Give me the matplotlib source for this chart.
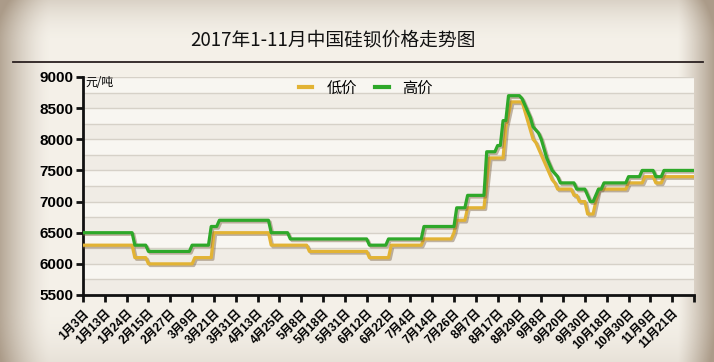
import numpy as np
import matplotlib
matplotlib.use("Agg")
import matplotlib.pyplot as plt
import matplotlib.patheffects as pe
from matplotlib.lines import Line2D

plt.rcParams['font.family'] = ['Liberation Sans', 'Noto Sans CJK SC', 'DejaVu Sans']

# 日期标签（每8个交易日一个）
tick_labels = ['1月3日', '1月13日', '1月24日', '2月15日', '2月27日', '3月9日', '3月21日',
               '3月31日', '4月13日', '4月25日', '5月8日', '5月18日', '5月31日', '6月12日',
               '6月22日', '7月4日', '7月14日', '7月26日', '8月7日', '8月17日', '8月29日',
               '9月8日', '9月20日', '9月30日', '10月18日', '10月30日', '11月9日', '11月21日']

# 低价: 价格 / 持续天数
low_vals = [6300, 6100, 6000, 6100, 6500, 6300, 6200, 6100, 6300, 6400, 6500, 6700, 6900,
            7300, 7700, 8200, 8400, 8600,
            8450, 8300, 8150, 8000, 7950, 7850, 7750, 7650, 7550, 7450, 7350, 7300,
            7200, 7100, 7000, 6800, 7000, 7200, 7300, 7400, 7300, 7400]
low_days = [19, 5, 17, 7, 21, 14, 22, 8, 12, 11, 1, 4, 7,
            1, 6, 1, 1, 5,
            1, 1, 1, 1, 1, 1, 1, 1, 1, 1, 1, 1,
            6, 2, 3, 3, 1, 11, 6, 4, 3, 12]

# 高价: 价格 / 持续天数
high_vals = [6500, 6300, 6200, 6300, 6600, 6700, 6500, 6400, 6300, 6400, 6600, 6900, 7100,
             7800, 7900, 8300, 8700,
             8650, 8550, 8450, 8350, 8200, 8150, 8100, 8000, 7850, 7700, 7600, 7500, 7450, 7400,
             7300, 7200, 7100, 7000, 7100, 7200, 7300, 7400, 7500, 7400, 7500]
high_days = [19, 5, 16, 7, 3, 19, 7, 29, 7, 13, 12, 4, 7,
             4, 2, 2, 5,
             1, 1, 1, 1, 1, 1, 1, 1, 1, 1, 1, 1, 1, 1,
             6, 4, 1, 2, 1, 2, 9, 5, 5, 3, 12]

low = np.repeat(low_vals, low_days)
high = np.repeat(high_vals, high_days)
x = np.arange(len(low))

fig = plt.figure(figsize=(7.14, 3.62), dpi=100)
fig.patch.set_facecolor('#f4f0e8')

# 背景暗角
bg = fig.add_axes([0, 0, 1, 1], zorder=-10)
gx = np.linspace(0, 1, 714)
gy = np.linspace(0, 1, 362)
X, Y = np.meshgrid(gx, gy)
shade = np.clip(1 - X / 0.07, 0, 1) ** 1.5 * 0.6 + np.clip((X - 0.95) / 0.05, 0, 1) ** 1.2 * 0.65 \
    + np.clip(1 - Y / 0.12, 0, 1) ** 2 * 0.25 + np.clip((Y - 0.85) / 0.15, 0, 1) ** 2 * 0.12
img = np.zeros((362, 714, 4))
img[..., 0] = 0.55
img[..., 1] = 0.47
img[..., 2] = 0.38
img[..., 3] = np.clip(shade, 0, 0.7)
bg.imshow(img, aspect='auto', extent=[0, 1, 0, 1], origin='upper')
bg.axis('off')

ax = fig.add_axes([83 / 714, 1 - 295 / 362, 611 / 714, 218 / 362])
ax.set_facecolor('none')
ax.set_xlim(0, 224)
ax.set_ylim(5500, 9000)

for i, yb in enumerate(np.arange(5500, 9000, 250)):
    ax.axhspan(yb, yb + 250, color='#f8f6f1' if i % 2 else '#f0ece5', lw=0, zorder=0)
for yg in np.arange(5750, 9001, 250):
    ax.axhline(yg, color='#d6d1c8', lw=1.0, zorder=1)

shadow = [pe.SimpleLineShadow(offset=(1.2, -1.2), shadow_color='#7a6040', alpha=0.45), pe.Normal()]
ax.plot(x, low, color='#e2b334', lw=2.3, zorder=3, path_effects=shadow, solid_joinstyle='round')
ax.plot(x, high, color='#2ea829', lw=2.3, zorder=4, path_effects=shadow, solid_joinstyle='round')

ax.set_yticks(np.arange(5500, 9001, 500))
ax.tick_params(axis='y', labelsize=11, length=5, width=2, color='#111111', pad=2)
for t in ax.get_yticklabels():
    t.set_fontweight('bold')

ax.set_xticks(np.arange(0, 225, 8))
ax.set_xticklabels(tick_labels + [''], rotation=45, ha='right', rotation_mode='anchor',
                   fontsize=8.5, fontweight='bold')
ax.tick_params(axis='x', length=5, width=2, color='#111111', pad=4)

for s in ['top', 'right']:
    ax.spines[s].set_visible(False)
for s in ['left', 'bottom']:
    ax.spines[s].set_linewidth(2)
    ax.spines[s].set_color('#111111')

ax.text(1, 9020, '元/吨', fontsize=8.5, va='top', ha='left', family=['Noto Sans CJK SC'])

handles = [Line2D([], [], color='#e2b334', lw=3), Line2D([], [], color='#2ea829', lw=3)]
leg = ax.legend(handles, ['低价', '高价'], loc='center', bbox_to_anchor=(0.463, 0.95),
                ncol=2, frameon=False, handlelength=0.9, handletextpad=0.9, columnspacing=1.2,
                prop={'family': 'Noto Sans CJK SC', 'size': 11})

fig.text(333 / 714, 1 - 40 / 362, '2017年1-11月中国硅钡价格走势图', ha='center', va='center',
         fontsize=13.5, family=['Noto Sans CJK SC'], color='#111111')
fig.add_artist(Line2D([13 / 714, 703 / 714], [1 - 62 / 362, 1 - 62 / 362],
                      color='#2a2020', lw=1.3))

fig.savefig('out.png', dpi=100, facecolor=fig.get_facecolor())
